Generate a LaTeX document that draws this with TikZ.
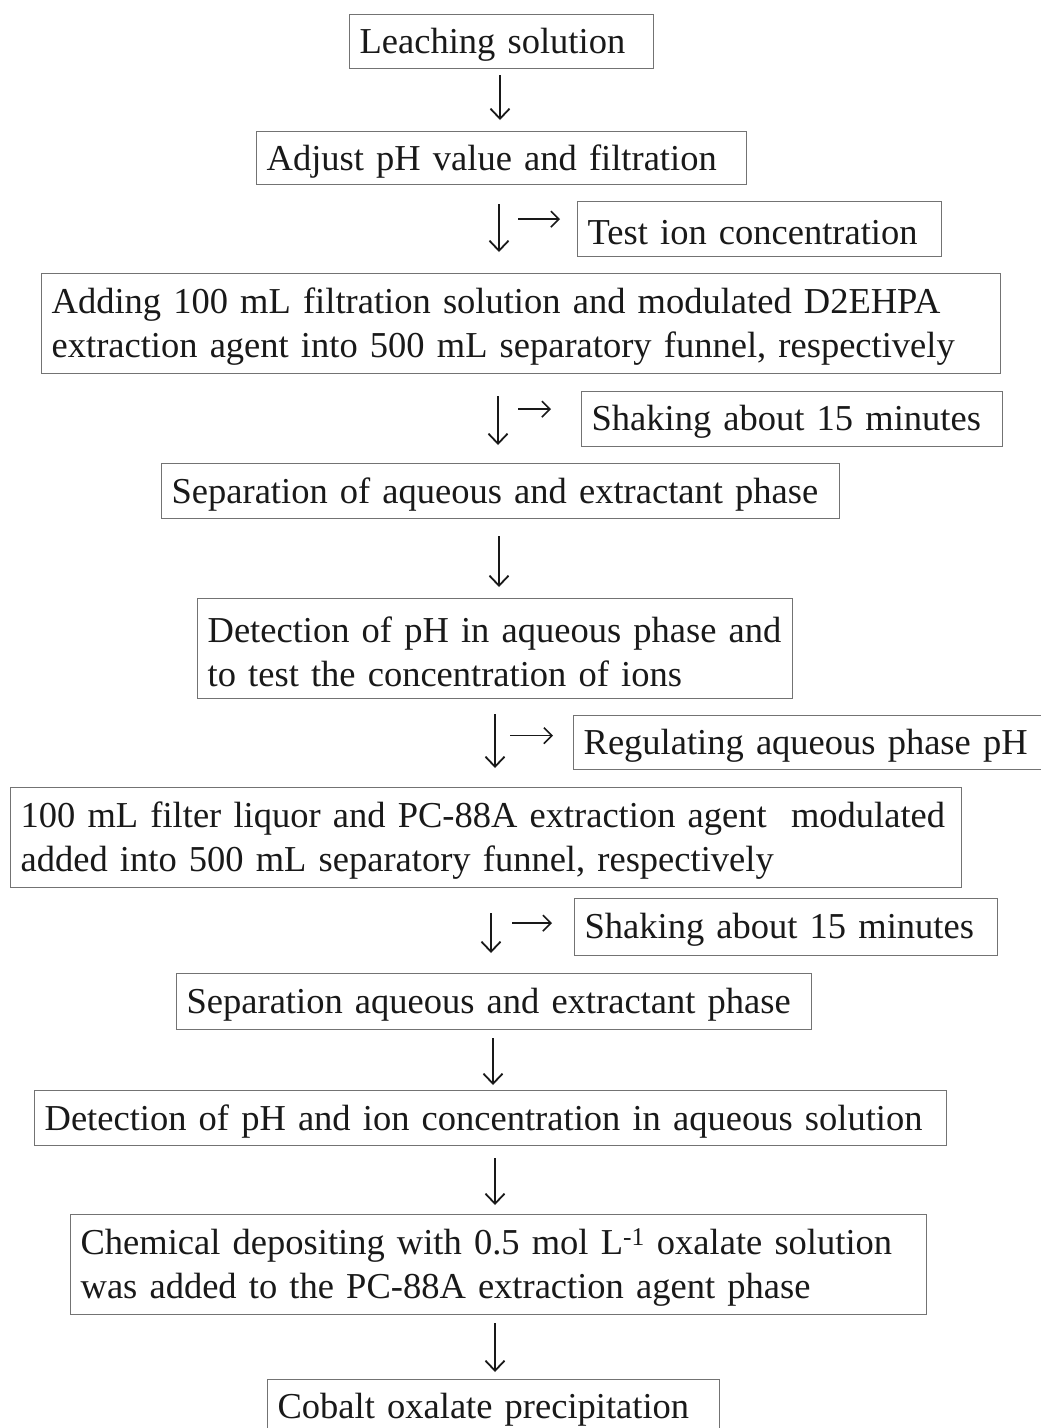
\documentclass[tikz,border=0pt]{standalone}
\usepackage{fontspec}
\setmainfont{Liberation Serif}
\usetikzlibrary{arrows.meta}
\newcommand\tline[1]{\mbox{\raisebox{-3pt}[\height][\depth]{#1}}}
\tikzset{
  box/.style={draw=black!55, line width=1.3pt, anchor=north west, inner xsep=10pt, inner ysep=0pt,
    align=left, font=\fontsize{36.5}{44}\selectfont, text=black!90},
  darr/.style={draw=black!90, line width=1.8pt, -{Straight Barb[length=10pt,width=19pt,line width=1.8pt]}},
  rarr/.style={draw=black!90, line width=1.6pt, -{Straight Barb[length=8pt,width=16pt,line width=1.6pt]}}
}
\begin{document}
\begin{tikzpicture}[x=1pt,y=-1pt]
\clip (0,0) rectangle (1041,1428);
\fill[white] (0,0) rectangle (1041,1428);
\node[box, minimum height=54pt, text width=284pt] (lead) at (349,14) {\tline{Leaching solution}};
\node[box, minimum height=53pt, text width=470pt] (adj) at (256,131) {\tline{Adjust pH value and filtration}};
\node[box, minimum height=55pt, text width=344pt] (test) at (577,201) {\tline{Test ion concentration}};
\node[box, minimum height=100pt, text width=939pt] (add) at (41,273) {\tline{Adding 100 mL filtration solution and modulated D2EHPA}\\\tline{extraction agent into 500 mL separatory funnel, respectively}};
\node[box, minimum height=55pt, text width=401pt] (shk1) at (581,391) {\tline{Shaking about 15 minutes}};
\node[box, minimum height=55pt, text width=658pt] (sep1) at (161,463) {\tline{Separation of aqueous and extractant phase}};
\node[box, minimum height=100pt, text width=575pt] (det1) at (197,598) {\tline{Detection of pH in aqueous phase and}\\\tline{to test the concentration of ions}};
\node[box, minimum height=54pt, text width=467pt] (reg) at (573,715) {\tline{Regulating aqueous phase pH}};
\node[box, minimum height=100pt, text width=931pt] (liq) at (10,787) {\tline{100 mL filter liquor and PC-88A extraction agent~ modulated}\\\tline{added into 500 mL separatory funnel, respectively}};
\node[box, minimum height=57pt, text width=403pt] (shk2) at (574,898) {\tline{Shaking about 15 minutes}};
\node[box, minimum height=56pt, text width=615pt] (sep2) at (176,973) {\tline{Separation aqueous and extractant phase}};
\node[box, minimum height=55pt, text width=892pt] (det2) at (34,1090) {\tline{Detection of pH and ion concentration in aqueous solution}};
\node[box, minimum height=100pt, text width=836pt] (chem) at (70,1214) {\tline{Chemical depositing with 0.5 mol L\textsuperscript{-1} oxalate solution}\\\tline{was added to the PC-88A extraction agent phase}};
\node[box, minimum height=55pt, text width=432pt] (cob) at (267,1379) {\tline{Cobalt oxalate precipitation}};
% down arrows
\draw[darr, shorten <=6pt, shorten >=11pt] (lead.south -| 500,0) -- (adj.north -| 500,0);
\draw[darr, shorten <=19pt, shorten >=21pt] (adj.south -| 499,0) -- (add.north -| 499,0);
\draw[darr, shorten <=22pt, shorten >=18pt] (add.south -| 498,0) -- (sep1.north -| 498,0);
\draw[darr, shorten <=17pt, shorten >=11pt] (sep1.south -| 499,0) -- (det1.north -| 499,0);
\draw[darr, shorten <=15pt, shorten >=19pt] (det1.south -| 495,0) -- (liq.north -| 495,0);
\draw[darr, shorten <=25pt, shorten >=20pt] (liq.south -| 491,0) -- (sep2.north -| 491,0);
\draw[darr, shorten <=8pt, shorten >=5pt] (sep2.south -| 493,0) -- (det2.north -| 493,0);
\draw[darr, shorten <=12pt, shorten >=9pt] (det2.south -| 495,0) -- (chem.north -| 495,0);
\draw[darr, shorten <=8pt, shorten >=7pt] (chem.south -| 495,0) -- (cob.north -| 495,0);
% side arrows
\draw[rarr] ([xshift=-59pt,yshift=10pt]test.west) -- ([xshift=-17pt,yshift=10pt]test.west);
\draw[rarr] ([xshift=-63pt,yshift=10pt]shk1.west) -- ([xshift=-30pt,yshift=10pt]shk1.west);
\draw[rarr] ([xshift=-63pt,yshift=7pt]reg.west) -- ([xshift=-20pt,yshift=7pt]reg.west);
\draw[rarr] ([xshift=-62pt,yshift=4pt]shk2.west) -- ([xshift=-22pt,yshift=4pt]shk2.west);
\end{tikzpicture}
\end{document}
